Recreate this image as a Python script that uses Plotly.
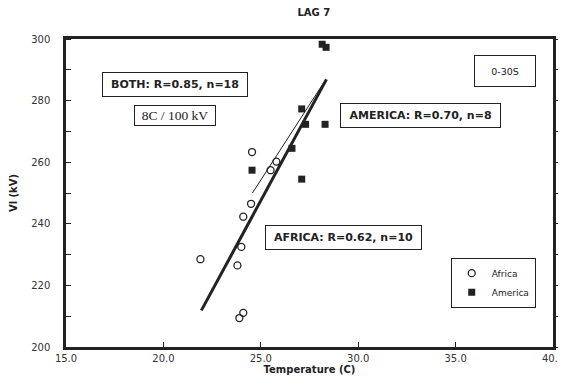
import plotly.graph_objects as go

# Data
africa_temp = [21.9, 23.8, 24.0, 24.1, 24.5, 25.5, 25.8, 24.55, 24.1, 23.9]
africa_vl = [228.5, 226.5, 232.5, 242.3, 246.5, 257.4, 260.2, 263.3, 211.1, 209.4]

america_temp = [28.15, 28.35, 27.1, 27.3, 28.3, 26.6, 24.55, 27.1]
america_vl = [298.3, 297.3, 277.3, 272.3, 272.3, 264.5, 257.4, 254.5]

thick_fit_temp = [21.95, 28.37]
thick_fit_vl = [211.9, 286.9]

thin_fit_temp = [24.57, 28.32]
thin_fit_vl = [250.0, 286.7]

x_ticks = [15, 20, 25, 30, 35, 40]
x_ticklabels = ["15.0", "20.0", "25.0", "30.0", "35.0", "40.0"]

FONT = "DejaVu Sans"
INK = "#222222"

fig = go.Figure()

fig.add_trace(go.Scatter(
    x=thick_fit_temp, y=thick_fit_vl, mode="lines",
    line=dict(color=INK, width=3), showlegend=False, hoverinfo="skip"))
fig.add_trace(go.Scatter(
    x=thin_fit_temp, y=thin_fit_vl, mode="lines",
    line=dict(color=INK, width=1), showlegend=False, hoverinfo="skip"))

fig.add_trace(go.Scatter(
    x=africa_temp, y=africa_vl, mode="markers", name="Africa",
    marker=dict(symbol="circle-open", size=7, color=INK, line=dict(width=1.3, color=INK))))
fig.add_trace(go.Scatter(
    x=america_temp, y=america_vl, mode="markers", name="America",
    marker=dict(symbol="square", size=7, color=INK)))

# invisible trace for the right-hand axis
fig.add_trace(go.Scatter(x=[15], y=[200], yaxis="y2", mode="markers",
                         marker=dict(opacity=0), showlegend=False, hoverinfo="skip"))

def box(text, x, y, size=11, bold=True, family=FONT, pad=4, w=None, h=None):
    t = f"<b>{text}</b>" if bold else text
    fig.add_annotation(x=x, y=y, xref="x", yref="y", text=t, showarrow=False,
                       font=dict(family=family, size=size, color=INK),
                       bordercolor=INK, borderwidth=1, borderpad=pad,
                       width=w, height=h,
                       bgcolor="white", xanchor="center", yanchor="middle")

box("BOTH: R=0.85, n=18", 20.58, 285.1, w=136, h=15)
box("8C / 100 kV", 20.58, 275.2, size=13.5, bold=False, family="Liberation Serif", pad=2, w=76, h=15)
box("AMERICA: R=0.70, n=8", 33.18, 275.1, w=151, h=15)
box("AFRICA: R=0.62, n=10", 29.22, 235.4, w=147, h=15)
box("0-30S", 37.56, 289.6, size=9.5, bold=False, pad=3, w=54, h=24)

# The page adds an 8px body margin, so the figure is sized to fit the window.
fig.update_layout(
    width=556, height=377,
    margin=dict(l=58, r=11, t=31, b=38, autoexpand=False),
    paper_bgcolor="white", plot_bgcolor="white",
    title=dict(text="<b>LAG 7</b>", x=0.55, xanchor="center", y=0.998, yanchor="top",
               font=dict(family=FONT, size=10, color=INK), automargin=False),
    font=dict(family=FONT, size=10, color="#333333"),
    xaxis=dict(range=[15, 40], tickvals=x_ticks, ticktext=x_ticklabels,
               ticks="inside", ticklen=5, tickwidth=1, tickcolor=INK,
               showline=True, linewidth=2.5, linecolor=INK, mirror=True,
               showgrid=False, zeroline=False, ticklabelstandoff=0, automargin=False,
               ticklabeloverflow="allow",
               title=dict(text="<b>Temperature (C)</b>", font=dict(size=10, color=INK), standoff=4),
               tickfont=dict(size=10, color="#333333")),
    yaxis=dict(range=[200, 300], tickvals=[200, 220, 240, 260, 280, 300],
               ticks="", showline=True, linewidth=2.5, linecolor=INK, mirror=True,
               showgrid=False, zeroline=False, ticklabelstandoff=11, automargin=False,
               ticklabeloverflow="allow",
               minor=dict(dtick=10, ticks="inside", ticklen=5, tickcolor=INK, tickwidth=1),
               title=dict(text="<b>Vl (kV)</b>", font=dict(size=10, color=INK), standoff=14),
               tickfont=dict(size=10, color="#333333")),
    yaxis2=dict(range=[200, 300], overlaying="y", side="right", dtick=10,
                ticks="outside", ticklen=5, tickcolor=INK, showticklabels=False,
                showgrid=False, zeroline=False, showline=False, automargin=False),
    legend=dict(x=0.79, y=0.29, xanchor="left", yanchor="top",
                bordercolor=INK, borderwidth=1, bgcolor="white",
                font=dict(family=FONT, size=9, color=INK),
                itemwidth=30, tracegroupgap=0),
)

fig.write_html("out.html")
